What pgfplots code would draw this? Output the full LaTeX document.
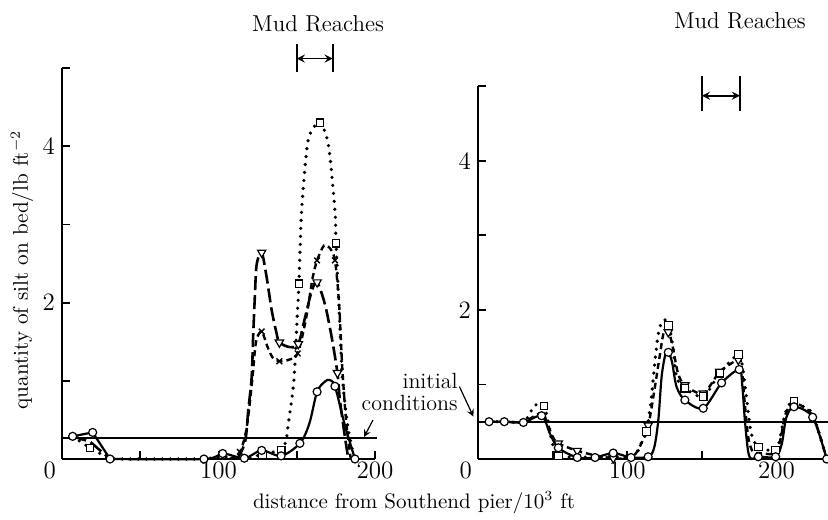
\documentclass[border=0pt]{standalone}
\usepackage{pgfplots}
\pgfplotsset{compat=1.18}
\pgfplotsset{
  solidc/.style={black, line width=1.1pt, smooth, tension=0.5},
  dotc/.style={black, line width=1.8pt, line cap=round, dash pattern=on 0pt off 4pt, smooth, tension=0.5},
  ldash/.style={black, line width=1.3pt, dash pattern=on 7pt off 2.5pt, smooth, tension=0.5},
  sdash/.style={black, line width=1.2pt, dash pattern=on 3pt off 2pt, smooth, tension=0.5},
  mcirc/.style={only marks, mark=*, mark size=2pt, mark options={solid, fill=white, draw=black, line width=0.6pt}},
  msq/.style={only marks, mark=square*, mark size=1.9pt, mark options={solid, fill=white, draw=black, line width=0.6pt}},
  mtri/.style={only marks, mark=triangle*, mark size=2.4pt, mark options={solid, rotate=180, fill=white, draw=black, line width=0.6pt}},
  mx/.style={only marks, mark=x, mark size=2pt, mark options={solid, draw=black, line width=0.7pt}},
  panel/.style={
    scale only axis, anchor=south west, clip=false,
    axis lines=left, axis line style={-, line width=1pt},
    ymin=0, ymax=5,
    xtick={0,100,200}, minor xtick={50,150},
    xticklabels={\makebox[0pt][r]{0}\hphantom{0},100,200},
    ytick={2,4}, minor ytick={1,3,5},
    tick align=inside, major tick length=4pt, minor tick length=4pt,
    every tick/.style={black, line width=0.9pt},
    every minor tick/.style={black, line width=0.9pt},
    /pgf/number format/assume math mode=true,
    ticklabel style={font=\fontsize{12.5}{13}\selectfont},
    xticklabel style={yshift=2pt},
  },
}
\begin{document}
\begin{tikzpicture}[x=1pt,y=1pt]
\path[use as bounding box] (0,0) rectangle (414,259.5);
% ---------------- left panel ----------------
\begin{axis}[panel, at={(31pt,30pt)}, width=156.5pt, height=195.5pt, xmin=0, xmax=200]
\addplot[black, line width=0.8pt] coordinates {(0,0.27) (201,0.27)};
% solid circles
\addplot[black, line width=1.1pt] coordinates {(6.8,0.29) (19.6,0.34) (30.7,0)};
\addplot[solidc] coordinates {(30.7,0) (90.7,0) (102.7,0.07) (116.5,0.01) (127.6,0.11) (140,0.04) (152,0.2) (158,0.45) (163,0.86) (168,0.99) (171,1.01) (174.4,0.93) (180.5,0.45) (187.2,0)};
% dotted squares
\addplot[dotc, sharp plot] coordinates {(6.8,0.29) (17.9,0.14) (30.7,0) (90.7,0) (102.7,0.03) (116.5,0) (128,0.06) (140,0.11)};
\addplot[dotc] coordinates {(140,0.11) (143,0.22) (144.6,0.45) (148.2,1.01) (150.4,1.86) (151.4,2.24) (153.1,3.17) (156.8,4.02) (160.6,4.23) (164.9,4.30) (170.2,4.02) (174.4,3.17) (175.1,2.76) (177.2,1.86) (179.3,1.01) (183,0.37) (187,0)};
% long dashed triangles
\addplot[ldash, sharp plot] coordinates {(6.8,0.29) (18,0.22) (30.7,0)};
\addplot[ldash] coordinates {(112,0) (117,0.22) (119,0.62) (121.2,1.05) (122.2,1.6) (123.3,2.11) (124.4,2.49) (127.6,2.64) (130.8,2.32) (134,1.9) (137.2,1.6) (138.9,1.49) (145.7,1.43) (151,1.47) (155.3,1.81) (159.6,2.15) (163,2.26) (168,1.98) (172.3,1.56) (176,1.1) (177.6,0.75) (180.8,0.28) (183,0)};
% short dashed crosses
\addplot[sdash] coordinates {(107,0) (113.7,0.09) (118,0.4) (121.5,1.0) (124,1.5) (127.6,1.63) (131,1.45) (134.5,1.3) (138.9,1.25) (145,1.27) (150.6,1.35) (156,1.8) (160,2.3) (163,2.54) (167.4,2.73) (171,2.7) (174.4,2.54) (177,2.0) (179,1.2) (181.5,0.5) (184.5,0)};
% marks
\addplot[msq] coordinates {(17.9,0.14) (128,0.06) (140,0.11) (151.4,2.24) (164.9,4.30) (175.1,2.76)};
\addplot[mtri] coordinates {(127.6,2.64) (138.9,1.49) (151,1.47) (163,2.26) (176,1.1)};
\addplot[mx] coordinates {(113.7,0.09) (127.6,1.63) (138.9,1.25) (150.6,1.35) (163,2.54) (174.4,2.54)};
\addplot[mcirc] coordinates {(6.8,0.29) (19.6,0.34) (30.7,0) (90.7,0) (102.7,0.07) (116.5,0.01) (127.6,0.11) (140,0.04) (152,0.2) (163,0.86) (174.4,0.93) (187.2,0)};
% mud reaches
\draw[line width=0.9pt] (axis cs:150,4.95) -- (axis cs:150,5.31);
\draw[line width=0.9pt] (axis cs:173,4.95) -- (axis cs:173,5.31);
\draw[line width=0.8pt, <->, >=stealth] (axis cs:150,5.12) -- (axis cs:173,5.12);
\node[font=\fontsize{11.5}{13}\selectfont] at (axis cs:163.6,5.57) {Mud Reaches};
\end{axis}
% ---------------- right panel ----------------
\begin{axis}[panel, at={(239pt,30pt)}, width=175pt, height=186.5pt, xmin=0, xmax=234.5]
\addplot[black, line width=0.8pt] coordinates {(0,0.5) (234.5,0.5)};
% dotted squares
\addplot[dotc] coordinates {(7.4,0.5) (17.6,0.5) (30.4,0.5) (35,0.62) (38,0.72) (44.2,0.71) (47,0.5) (50,0.2) (53.8,0.04) (66.5,0.03) (78.4,0.02) (90.6,0.03) (102.5,0.02) (107,0.1) (110,0.25) (113,0.37) (116,0.8) (118.5,1.3) (121,1.7) (124,1.86) (127.5,1.82) (130.6,1.5) (133,1.1) (138.6,0.95) (150.9,0.84) (162,1.15) (174.4,1.40) (177.5,1.2) (180,0.8) (183,0.35) (187.8,0.16) (199.4,0.12) (202.5,0.3) (205,0.55) (208,0.72) (211.7,0.77) (216,0.72) (224.2,0.6) (233.6,0)};
% dashed triangles
\addplot[sdash] coordinates {(7.4,0.5) (17.6,0.5) (30.4,0.5) (42.6,0.62) (46,0.5) (50,0.3) (53.8,0.21) (66.5,0.11) (78.4,0.05) (90.6,0.01) (102.5,0.02) (108,0.15) (114,0.45) (118,0.9) (121.9,1.4) (124.5,1.7) (127.5,1.72) (130.5,1.5) (134,1.15) (138.6,0.99) (150.9,0.88) (162,1.17) (174.4,1.33) (176.5,1.25) (178.5,0.8) (181,0.3) (184,0.1) (187.8,0.08) (199.4,0.08) (203,0.3) (206,0.6) (211.7,0.75) (224.2,0.58) (233.6,0)};
% solid circles
\addplot[solidc] coordinates {(7.4,0.5) (17.6,0.5) (30.4,0.49) (42.6,0.58) (48.2,0.34) (53.8,0.15) (66.5,0.02) (78.4,0.02) (90.6,0.08) (102.5,0.02) (114,0.03) (118,0.15) (120.8,0.52) (123,1.1) (125.5,1.4) (127.5,1.43) (130,1.3) (133,0.97) (138.6,0.79) (150.9,0.68) (163.2,1.02) (175,1.2) (177,1.0) (178.8,0.52) (181,0.1) (183.3,0) (187.8,0.03) (199.4,0.03) (203.5,0.2) (206.5,0.55) (211.7,0.70) (224.2,0.56) (233.6,0)};
% marks
\addplot[mtri] coordinates {(53.8,0.21) (66.5,0.11) (90.6,0.01) (114,0.45) (127.5,1.70) (138.6,0.99) (150.9,0.88) (162,1.17) (174.4,1.33)};
\addplot[msq] coordinates {(44.2,0.71) (53.8,0.04) (113,0.37) (127.5,1.79) (138.6,0.95) (150.9,0.84) (162,1.15) (174.4,1.40) (187.8,0.16) (199.4,0.12) (211.7,0.77)};
\addplot[mcirc] coordinates {(7.4,0.5) (17.6,0.5) (30.4,0.49) (42.6,0.58) (53.8,0.15) (66.5,0.02) (78.4,0.02) (90.6,0.08) (102.5,0.02) (114,0.03) (127.5,1.43) (138.6,0.79) (150.9,0.68) (163.2,1.02) (175,1.20) (187.8,0.03) (199.4,0.03) (211.7,0.70) (224.2,0.56) (233.6,0)};
% mud reaches
\draw[line width=0.9pt] (axis cs:150,4.66) -- (axis cs:150,5.13);
\draw[line width=0.9pt] (axis cs:175.5,4.66) -- (axis cs:175.5,5.13);
\draw[line width=0.8pt, <->, >=stealth] (axis cs:150,4.87) -- (axis cs:175.5,4.87);
\node[font=\fontsize{11.5}{13}\selectfont] at (axis cs:175.5,5.87) {Mud Reaches};
\end{axis}
% ---------------- labels ----------------
\node[rotate=90, font=\fontsize{10.6}{13}\selectfont] at (11,124.5) {quantity of silt on bed/lb ft$^{-2}$};
\node[font=\fontsize{10.5}{13}\selectfont] at (207,8) {distance from Southend pier/10$^{3}$ ft};
\node[anchor=east, align=right, font=\fontsize{11}{11}\selectfont, inner sep=0pt] at (229,63.5) {initial\\conditions};
\draw[line width=0.6pt, ->, >=stealth] (186.5,49.5) -- (182,41);
\draw[line width=0.6pt, ->, >=stealth] (229.7,66.2) -- (236.7,51.2);
\end{tikzpicture}
\end{document}
